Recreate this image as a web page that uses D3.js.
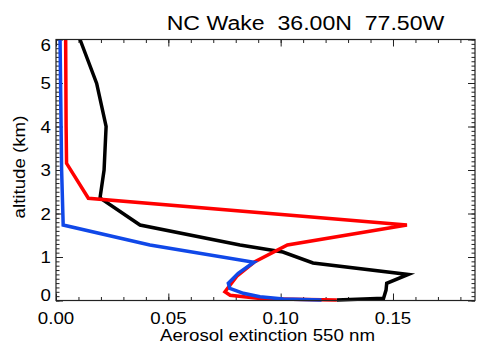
<!DOCTYPE html>
<html>
<head>
<meta charset="utf-8">
<script src="https://cdn.jsdelivr.net/npm/d3@7"></script>
<style>
  html, body { margin: 0; padding: 0; background: #fff; }
  svg { display: block; }
  text { font-family: "Liberation Sans", Arial, Helvetica, sans-serif; fill: #000; white-space: pre; }
</style>
</head>
<body>
<svg id="chart" width="483" height="346"></svg>
<script>
// Aerosol extinction profiles (550 nm) versus altitude (km)
const blackAlt = [6.0, 4.99, 4.0, 3.0, 2.36, 1.736, 1.276, 1.115, 0.862, 0.598, 0.395, 0.24, 0.05, 0.01];
const blackExt = [0.0107, 0.0181, 0.0223, 0.0214, 0.0196, 0.0374, 0.0819, 0.101, 0.1144, 0.1568, 0.1472, 0.1469, 0.1458, 0.125];

const redAlt = [6.0, 5.0, 4.0, 3.154, 2.35, 1.736, 1.276, 0.878, 0.56, 0.2, 0.12, 0.04, 0.01];
const redExt = [0.0043, 0.0044, 0.0045, 0.0047, 0.0144, 0.1562, 0.103, 0.0881, 0.0805, 0.0752, 0.0775, 0.092, 0.125];

const blueAlt = [6.0, 3.0, 1.736, 1.276, 0.878, 0.625, 0.395, 0.28, 0.165, 0.087, 0.035, 0.01];
const blueExt = [0.0018, 0.0025, 0.0032, 0.0418, 0.0881, 0.0811, 0.0767, 0.0774, 0.0834, 0.0908, 0.1012, 0.1182];

const xTickValues = [0.00, 0.05, 0.10, 0.15];
const xTickLabels = ["0.00", "0.05", "0.10", "0.15"];
const yTickValues = [0, 1, 2, 3, 4, 5, 6];
const yTickLabels = ["0", "1", "2", "3", "4", "5", "6"];

const titleText = "NC Wake  36.00N  77.50W";
const xTitle = "Aerosol extinction 550 nm";
const yTitle = "altitude (km)";

const svg = d3.select("#chart");
const L = 56, R = 475, T = 39.5, B = 300.5;
const stretch = 1.1;

const x = d3.scaleLinear().domain([0, 0.1865]).range([L, R]);
const y = d3.scaleLinear().domain([0, 6]).range([B, T]);

// horizontally widened text, like the original plotting font
function label(sel, str, px, py, size, anchor, rot) {
  return sel.append("text")
    .attr("transform", `translate(${px},${py}) rotate(${rot || 0}) scale(${stretch},1)`)
    .attr("text-anchor", anchor)
    .attr("xml:space", "preserve")
    .style("font-size", size + "px")
    .text(str);
}

// inward tick marks on all four sides
const axisColor = "#222";
const minorX = d3.range(0, 0.1865, 0.01);
const minorY = d3.range(0, 6.0001, 0.1);

const axes = svg.append("g");
axes.append("g").attr("transform", `translate(0,${B})`)
  .call(d3.axisBottom(x).tickValues(minorX).tickSize(-3.5).tickFormat(""));
axes.append("g").attr("transform", `translate(0,${B})`)
  .call(d3.axisBottom(x).tickValues(xTickValues).tickSize(-7).tickFormat(""));
axes.append("g").attr("transform", `translate(0,${T})`)
  .call(d3.axisTop(x).tickValues(minorX).tickSize(-3.5).tickFormat(""));
axes.append("g").attr("transform", `translate(0,${T})`)
  .call(d3.axisTop(x).tickValues(xTickValues).tickSize(-7).tickFormat(""));
axes.append("g").attr("transform", `translate(${L},0)`)
  .call(d3.axisLeft(y).tickValues(minorY).tickSize(-3.5).tickFormat(""));
axes.append("g").attr("transform", `translate(${L},0)`)
  .call(d3.axisLeft(y).tickValues(yTickValues).tickSize(-7).tickFormat(""));
axes.append("g").attr("transform", `translate(${R},0)`)
  .call(d3.axisRight(y).tickValues(minorY).tickSize(-3.5).tickFormat(""));
axes.append("g").attr("transform", `translate(${R},0)`)
  .call(d3.axisRight(y).tickValues(yTickValues).tickSize(-7).tickFormat(""));
axes.selectAll(".domain").remove();
axes.selectAll("line").attr("stroke", axisColor).attr("stroke-width", 1);

// profiles
const line = d3.line().x(d => x(d[0])).y(d => y(d[1]));
const profiles = [
  { ext: blackExt, alt: blackAlt, color: "#000000" },
  { ext: redExt, alt: redAlt, color: "#ff0000" },
  { ext: blueExt, alt: blueAlt, color: "#1048e8" }
];
profiles.forEach(p => {
  svg.append("path")
    .datum(p.ext.map((v, i) => [v, p.alt[i]]))
    .attr("d", line)
    .attr("fill", "none")
    .attr("stroke", p.color)
    .attr("stroke-width", 3.5)
    .attr("stroke-linejoin", "miter");
});

// plot frame
svg.append("rect")
  .attr("x", L).attr("y", T).attr("width", R - L).attr("height", B - T)
  .attr("fill", "none").attr("stroke", axisColor).attr("stroke-width", 1.2);

// tick labels
xTickValues.forEach((v, i) => label(svg, xTickLabels[i], x(v), 323.5, 17, "middle"));
yTickValues.forEach((v, i) => {
  let cy = y(v);
  cy = Math.max(Math.min(cy, 295), 45);
  label(svg, yTickLabels[i], 51, cy + 6.1, 17, "end");
});

// titles
label(svg, titleText, 305.5, 30, 21, "middle");
label(svg, xTitle, 267.5, 341, 17, "middle");
label(svg, yTitle, 24.5, 167, 17, "middle", -90);
</script>
</body>
</html>
